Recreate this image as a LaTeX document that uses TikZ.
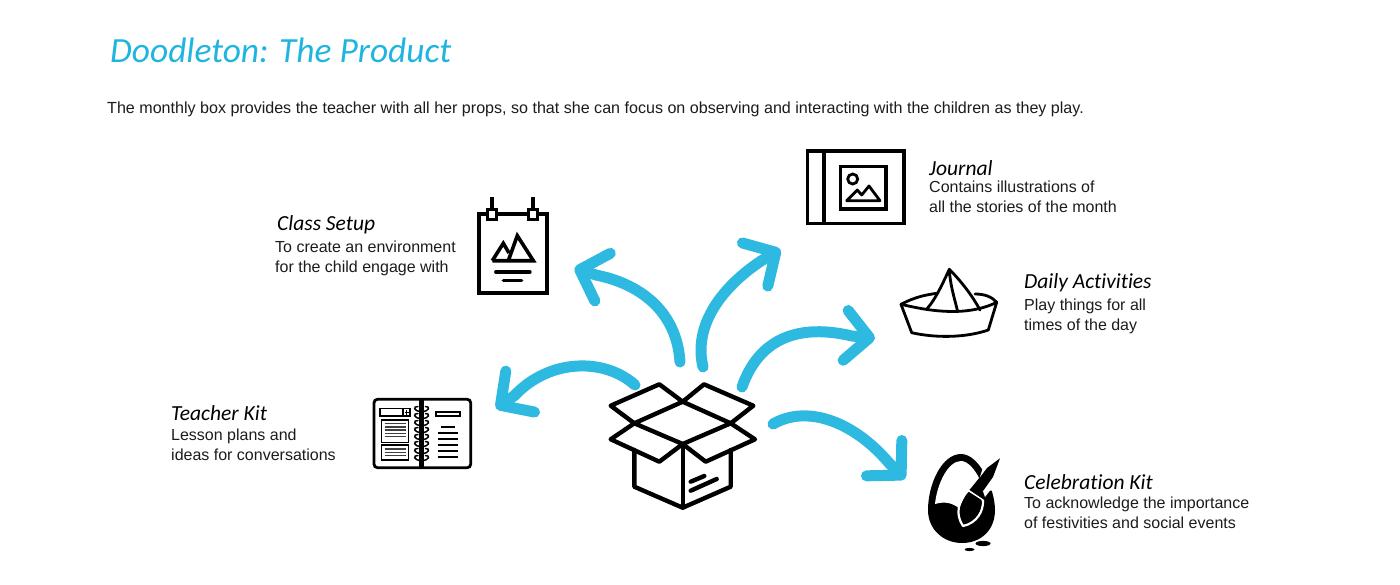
\documentclass[tikz,border=0pt]{standalone}
\usepackage{fontspec}
\setmainfont{Liberation Sans}
\newfontfamily\handfont{Carlito}[ItalicFont={Carlito Italic},Ligatures=NoCommon]
\usetikzlibrary{arrows.meta}
\definecolor{sky}{HTML}{2EBAE0}
\definecolor{skytitle}{HTML}{1FB5E0}
\definecolor{ink}{HTML}{000000}
\definecolor{bodytext}{HTML}{1C1C1C}
\tikzset{
  flow/.style={draw=sky,line width=11pt,line cap=round,line join=round,-{Straight Barb[length=24pt,width=50pt,round]}},
  thick4/.style={draw=ink,line width=4.4pt,line join=round,line cap=round},
  thick3/.style={draw=ink,line width=3.2pt,line join=miter},
  thin2/.style={draw=ink,line width=1.8pt},
  head/.style={anchor=base west,inner sep=0pt,text=black,font=\handfont\itshape\fontsize{21.5}{24}\selectfont},
  desc/.style={anchor=north west,inner sep=0pt,align=left,text=bodytext,font=\fontsize{16}{20}\selectfont},
}
\begin{document}
\begin{tikzpicture}[x=1pt,y=-1pt]
\useasboundingbox (0,0) rectangle (1400,584);
\fill[white] (0,0) rectangle (1400,584);
% title and lead
\node[anchor=base west,inner sep=0pt,text=skytitle,font=\handfont\itshape\fontsize{35.4}{40}\selectfont] (title) at (110,62) {Doodleton: The Product};
\node[anchor=base west,inner sep=0pt,text=bodytext,font=\fontsize{16.08}{20}\selectfont] (lead) at (107,113) {The monthly box provides the teacher with all her props, so that she can focus on observing and interacting with the children as they play.};
% labels
\node[head] (h1) at (277,230) {Class Setup};
\node[desc] (d1) at (275,241) {To create an environment\\for the child engage with};
\node[head] (h2) at (929,175) {Journal};
\node[desc] (d2) at (929,181) {Contains illustrations of\\all the stories of the month};
\node[head] (h3) at (1024,288) {Daily Activities};
\node[desc] (d3) at (1024,299) {Play things for all\\times of the day};
\node[head] (h4) at (171,420) {Teacher Kit};
\node[desc] (d4) at (171,429) {Lesson plans and\\ideas for conversations};
\node[head] (h5) at (1024,489) {Celebration Kit};
\node[desc] (d5) at (1024,497) {To acknowledge the importance\\of festivities and social events};
% arrow ends
\coordinate (boxA) at (635,385);
\coordinate (boxB) at (680,362);
\coordinate (boxC) at (703,367);
\coordinate (boxD) at (742,387);
\coordinate (boxE) at (773,424);
\coordinate (kit) at (496,408.5);
\coordinate (setup) at (574.5,268);
\coordinate (journal) at (780.5,249.5);
\coordinate (daily) at (875,338.3);
\coordinate (celeb) at (905,479);
\draw[flow] (boxA) .. controls (605,358) and (550,358) .. (514.4,395.6) -- (kit);
\draw[flow] (boxB) .. controls (677,315) and (645,285) .. (596,275) -- (setup);
\draw[flow] (boxC) .. controls (693,325) and (722,287) .. (761,261) -- (journal);
\draw[flow] (boxD) .. controls (762,330) and (810,326) .. (852,336) -- (daily);
\draw[flow] (boxE) .. controls (810,403) and (857,425) .. (889,463) -- (celeb);
% box
\draw[thick4] (682.7,401.7) -- (659.3,384.3) -- (610.7,405.7) -- (634.3,423.3);
\draw[thick4] (682.7,401.7) -- (704,384.3) -- (753.3,405.7) -- (730.7,423.3);
\draw[thick4] (682.7,401.7) -- (634.3,423.3) -- (682.7,444) -- (730.7,423.3) -- cycle;
\draw[thick4] (634.3,423.3) -- (610.7,439.3) -- (659.3,461.7) -- (682.7,444);
\draw[thick4] (730.7,423.3) -- (755,439.3) -- (705.7,461.7) -- (682.7,444);
\draw[thick4] (634.3,450) -- (634.3,486.7) -- (682.7,507.7) -- (730.7,486.7) -- (730.7,450);
\draw[thick4] (682.7,444) -- (682.7,507.7);
\draw[thick4] (690.7,481.7) -- (704.3,476);
\draw[thick4] (690.7,490.7) -- (716.7,479);
% teacher kit
\draw[draw=ink,line width=2.8pt,rounded corners=3.5pt] (374,399.3) rectangle (470.7,467.7);
\draw[thin2,line width=1.6pt] (380,408.3) rectangle (410,416);
\draw[thin2,line width=1.6pt] (403,408.3) -- (403,416);
\draw[thin2,line width=1pt] (406.5,410) -- (406.5,414.5) (404.5,412.2) -- (408.5,412.2);
\draw[thin2,line width=1.3pt] (381.7,420) rectangle (408.3,442.3);
\draw[thin2,line width=1.3pt] (381.7,445) rectangle (408.3,460);
\foreach \yy in {423.5,426.8,430.1,433.4,436.7}{\draw[draw=ink!75,line width=1.4pt] (384.5,\yy) -- (405.5,\yy);}
\foreach \yy in {449,452.3,455.6}{\draw[draw=ink!75,line width=1.4pt] (384.5,\yy) -- (405.5,\yy);}
\draw[thin2,line width=1.6pt] (435.7,411.7) rectangle (460,415.7);
\draw[thin2] (440.7,427.3) -- (455.3,427.3);
\foreach \yy in {432.7,438.7,444.7,450.7,456.7}{\draw[thin2] (437.7,\yy) -- (457.7,\yy);}
\foreach \yy in {409.5,416.5,423.5,430.5,437.5,444.5,451.5,458.5}{
  \draw[draw=ink,line width=1.5pt,line cap=round] (421.7,\yy+2) .. controls (413,\yy+2) and (413,\yy-3.5) .. (418,\yy-3);
  \draw[draw=ink,line width=1.5pt,line cap=round] (421.7,\yy+2) .. controls (430,\yy+2) and (430,\yy-3.5) .. (425.5,\yy-3);
}
\draw[draw=ink,line width=5pt] (421.7,399.3) -- (421.7,467.7);
% class setup
\draw[thick3,line width=4pt] (479,214) rectangle (546.7,293.3);
\draw[thick3,line width=4pt] (491.7,196.7) -- (491.7,210);
\draw[thick3,line width=4pt] (533,196.7) -- (533,210);
\draw[thick3,line width=3pt,fill=white] (487,209.5) rectangle (496.5,219);
\draw[thick3,line width=3pt,fill=white] (528.3,209.5) rectangle (537.8,219);
\draw[thick3,line width=3.6pt] (492.3,260.7) -- (533.3,260.7) -- (517.3,235.7) -- (508.3,260.7);
\draw[thick3,line width=3.6pt] (492.3,260.7) -- (503.3,243.3) -- (509,253);
\draw[thick4,line width=3.2pt] (495.7,272) -- (530,272);
\draw[thick4,line width=3.2pt] (503.3,280.3) -- (521.7,280.3);
% journal
\draw[thick3] (807.3,151) rectangle (904,223.3);
\draw[thick3] (824,151) -- (824,223.3);
\draw[thick3] (840.7,166.7) rectangle (886,209);
\draw[draw=ink,line width=2.8pt] (852.7,179) circle (5);
\draw[draw=ink,line width=2.8pt,line join=round] (846.7,200.7) -- (857.3,190) -- (861.7,195) -- (869,186) -- (880,200.7) -- cycle;
% boat
\begin{scope}[draw=ink,line width=2.8pt,line cap=round,line join=round]
\draw (901,304.3) .. controls (925,310) and (965,318) .. (996.7,302.3);
\draw (901,304.3) -- (911.7,332.7) .. controls (935,338) and (965,338) .. (988.3,330) -- (996.7,302.3);
\draw (901,304.3) .. controls (915,297) and (925,295) .. (936.7,293.3);
\draw (975,294) .. controls (985,294) and (992,297) .. (996.7,302.3);
\draw (927.3,308.3) .. controls (935,300) and (942,285) .. (949.3,269.3) .. controls (950,285) and (955,300) .. (957.7,311.7);
\draw (949.3,269.3) .. controls (960,280) and (972,295) .. (980,310);
\end{scope}
% celebration egg
\fill[ink] (961,454) .. controls (942,454) and (928,484) .. (928,510) .. controls (928,530) and (944,543) .. (962,543) .. controls (981,543) and (995,530) .. (995,510) .. controls (995,490) and (980,454) .. (961,454) -- cycle;
% interior left of the brush
\fill[white] (961,461) .. controls (948,461) and (937,484) .. (935,504) .. controls (945,501) and (952,503) .. (959,508) -- (966,494) -- (979,478) .. controls (975,470) and (968,461) .. (961,461) -- cycle;
% gap in the rim right of the handle
\fill[white] (979,480) -- (984,464) -- (1006,464) -- (1006,490.5) -- (990,490.5) -- (985,497) -- cycle;
% brush
\fill[ink] (1000,458.3) -- (987,468) -- (975,484) -- (983,491) -- (993,477) -- cycle;
\fill[ink] (973.5,486) -- (983,492.5) -- (980.5,497) -- (970.5,490) -- cycle;
\draw[draw=white,line width=2.2pt,line join=round] (968,490.5) -- (983,500.5) .. controls (983.5,511) and (977,523) .. (963,526) .. controls (955,514) and (958,502) .. (968,490.5) -- cycle;
\fill[ink] (969,492) -- (981.5,500) .. controls (982,510) and (976,521) .. (964,524) .. controls (957,513) and (960,502) .. (969,492) -- cycle;
\fill[ink] (983,543.5) ellipse (7.5 and 2.6);
\fill[ink] (969.5,549.5) ellipse (5 and 1.6);
\end{tikzpicture}
\end{document}
